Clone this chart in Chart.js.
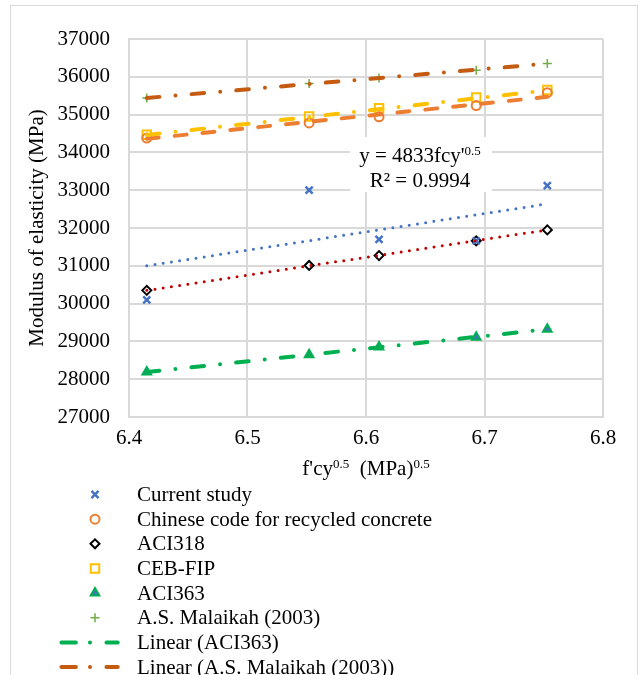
<!DOCTYPE html>
<html>
<head>
<meta charset="utf-8">
<script src="https://cdn.jsdelivr.net/npm/chart.js@4/dist/chart.umd.min.js"></script>
<style>
  html, body { margin: 0; padding: 0; background: #fff; }
  #wrap { position: relative; width: 641px; height: 675px; overflow: hidden; }
  #frame { position: absolute; left: 10px; top: 5px; width: 628px; height: 700px; box-sizing: border-box; border: 1px solid #d9d9d9; }
  canvas { position: absolute; left: 0; top: 0; }
</style>
</head>
<body>
<div id="wrap">
  <div id="frame"></div>
  <canvas id="c" width="641" height="675"></canvas>
</div>
<script>
// ---- data ----
const xValues = [6.415, 6.552, 6.611, 6.693, 6.753];
const currentStudy = [30100, 33000, 31700, 31660, 33120];
const chineseCode = [34380, 34780, 34940, 35240, 35580];
const aci318 = [30350, 31010, 31270, 31660, 31950];
const cebFip = [34470, 34950, 35170, 35450, 35650];
const aci363 = [28190, 28650, 28850, 29110, 29320];
const malaikah = [35440, 35820, 35970, 36170, 36350];

// trendline end points (start / end of data range)
const trendX = [6.415, 6.753];
const trendCurrent = [31000, 32640];
const trendAci318 = [30350, 31950];
const trendCeb = [34460, 35640];
const trendChinese = [34360, 35470];
const trendAci363 = [28190, 29320];
const trendMalaikah = [35440, 36350];

const yTicks = [27000, 28000, 29000, 30000, 31000, 32000, 33000, 34000, 35000, 36000, 37000];
const xTicks = [6.4, 6.5, 6.6, 6.7, 6.8];

const FONT = "'Liberation Serif', 'Times New Roman', serif";
const TEXT = '#000000';
const GRID = '#d9d9d9';

const pts = (xs, ys) => xs.map((x, i) => ({ x: x, y: ys[i] }));

const DOT = [0, 8.3];
const DASHDOT = [12.7, 16.1, 0, 16.1];
const DASH = [12, 16];

function scatterSet(label, ys, style, radius, border, fill, bw) {
  return {
    type: 'scatter', label: label, data: pts(xValues, ys), showLine: false,
    pointStyle: style, pointRadius: radius, pointHoverRadius: radius,
    borderColor: border, backgroundColor: fill, pointBorderWidth: bw, borderWidth: bw,
    order: 2, legendShow: true
  };
}
function trendSet(label, ys, color, width, dash, show) {
  return {
    type: 'line', label: label, data: pts(trendX, ys), showLine: true,
    borderColor: color, backgroundColor: color, borderWidth: width, borderDash: dash,
    borderCapStyle: 'round', pointRadius: 0, pointHoverRadius: 0, tension: 0, fill: false,
    order: 1, legendShow: show
  };
}

const datasets = [
  scatterSet('Current study', currentStudy, 'crossRot', 5, '#4472c4', '#4472c4', 2.5),
  scatterSet('Chinese code for recycled concrete', chineseCode, 'circle', 4.5, '#ed7d31', 'rgba(0,0,0,0)', 2),
  scatterSet('ACI318', aci318, 'rectRot', 4.5, '#000000', '#ffffff', 2),
  scatterSet('CEB-FIP', cebFip, 'rect', 6, '#ffc000', 'rgba(0,0,0,0)', 2),
  scatterSet('ACI363', aci363, 'triangle', 5, '#00b050', '#4472c4', 2),
  scatterSet('A.S. Malaikah (2003)', malaikah, 'cross', 4.5, '#70ad47', '#70ad47', 1.5),
  trendSet('Linear (ACI363)', trendAci363, '#00b050', 4, DASHDOT, true),
  trendSet('Linear (A.S. Malaikah (2003))', trendMalaikah, '#c55a11', 4, DASHDOT, true),
  trendSet('Linear (Current study)', trendCurrent, '#4472c4', 3, DOT, false),
  trendSet('Linear (ACI318)', trendAci318, '#c00000', 3, DOT, false),
  trendSet('Linear (CEB-FIP)', trendCeb, '#ffc000', 4, DASHDOT, false),
  trendSet('Linear (Chinese code for recycled concrete)', trendChinese, '#ed7d31', 4, DASH, false)
];

function drawSupText(ctx, parts, cx, cy, align) {
  // parts: [{t, sup}]
  const base = '21px ' + FONT, small = '13px ' + FONT;
  let total = 0;
  parts.forEach(p => { ctx.font = p.sup ? small : base; p.w = ctx.measureText(p.t).width; total += p.w; });
  let x = align === 'center' ? cx - total / 2 : cx;
  ctx.textAlign = 'left';
  ctx.textBaseline = 'alphabetic';
  parts.forEach(p => {
    ctx.font = p.sup ? small : base;
    ctx.fillText(p.t, x, p.sup ? cy - 7 : cy);
    x += p.w;
  });
  return total;
}

const extras = {
  id: 'extras',
  afterDraw(chart) {
    const ctx = chart.ctx;
    const area = chart.chartArea;
    ctx.save();
    ctx.fillStyle = TEXT;
    // x-axis title with superscripts
    const midX = (area.left + area.right) / 2;
    drawSupText(ctx, [{ t: "f'cy" }, { t: '0.5', sup: true }, { t: '  (MPa)' }, { t: '0.5', sup: true }], midX, 475, 'center');

    // trendline equation label
    const bx = area.left + 221, by = area.top + 98, bw = 142, bh = 55;
    ctx.fillStyle = '#ffffff';
    ctx.fillRect(bx, by, bw, bh);
    ctx.fillStyle = TEXT;
    drawSupText(ctx, [{ t: "y = 4833fcy'" }, { t: '0.5', sup: true }], bx + 70, by + 25, 'center');
    ctx.font = '21px ' + FONT;
    ctx.textAlign = 'center';
    ctx.textBaseline = 'alphabetic';
    ctx.fillText('R\u00b2 = 0.9994', bx + 70, by + 50);

    // legend (single column, as in the reference)
    const items = chart.data.datasets.filter(d => d.legendShow);
    const rowY0 = 494.5, rowH = 24.65;
    const markX = 95, lineX0 = 61.4, lineX1 = 117.7, textX = 137;
    items.forEach((d, i) => {
      const y = rowY0 + i * rowH;
      ctx.save();
      if (d.type === 'line') {
        ctx.strokeStyle = d.borderColor;
        ctx.lineWidth = d.borderWidth;
        ctx.lineCap = 'round';
        ctx.setLineDash([14.5, 14.1, 0, 16.5]);
        ctx.beginPath();
        ctx.moveTo(lineX0, y);
        ctx.lineTo(lineX1, y);
        ctx.stroke();
      } else {
        ctx.strokeStyle = d.borderColor;
        ctx.fillStyle = d.backgroundColor;
        ctx.lineWidth = d.pointBorderWidth;
        Chart.helpers.drawPoint(ctx, {
          pointStyle: d.pointStyle, radius: d.pointRadius, borderWidth: d.pointBorderWidth, rotation: 0
        }, markX, y);
      }
      ctx.restore();
      ctx.fillStyle = TEXT;
      ctx.font = '21px ' + FONT;
      ctx.textAlign = 'left';
      ctx.textBaseline = 'middle';
      ctx.fillText(d.label, textX, y + 1);
    });
    ctx.restore();
  }
};

new Chart(document.getElementById('c'), {
  type: 'scatter',
  data: { datasets: datasets },
  options: {
    responsive: false,
    animation: false,
    devicePixelRatio: 1,
    layout: { padding: { left: 25, right: 38, top: 39, bottom: 228 } },
    plugins: {
      legend: { display: false },
      tooltip: { enabled: false }
    },
    scales: {
      x: {
        type: 'linear', min: 6.4, max: 6.8,
        afterBuildTicks: s => { s.ticks = xTicks.map(v => ({ value: v })); },
        afterFit: s => { s.height = 30; },
        grid: { color: GRID, lineWidth: 2, drawTicks: false },
        border: { color: GRID, width: 2 },
        ticks: { padding: 9, color: TEXT, font: { family: FONT, size: 21 }, callback: v => Number(v).toFixed(1) }
      },
      y: {
        type: 'linear', min: 27000, max: 37000,
        afterBuildTicks: s => { s.ticks = yTicks.map(v => ({ value: v })); },
        afterFit: s => { s.width = 104; },
        grid: { color: GRID, lineWidth: 2, drawTicks: false },
        border: { color: GRID, width: 2 },
        ticks: { padding: 19, color: TEXT, font: { family: FONT, size: 21 }, callback: v => String(v) },
        title: { display: true, text: 'Modulus of elasticity (MPa)', color: TEXT, font: { family: FONT, size: 21 }, padding: { top: 0, bottom: 0 } }
      }
    }
  },
  plugins: [extras]
});
</script>
</body>
</html>
